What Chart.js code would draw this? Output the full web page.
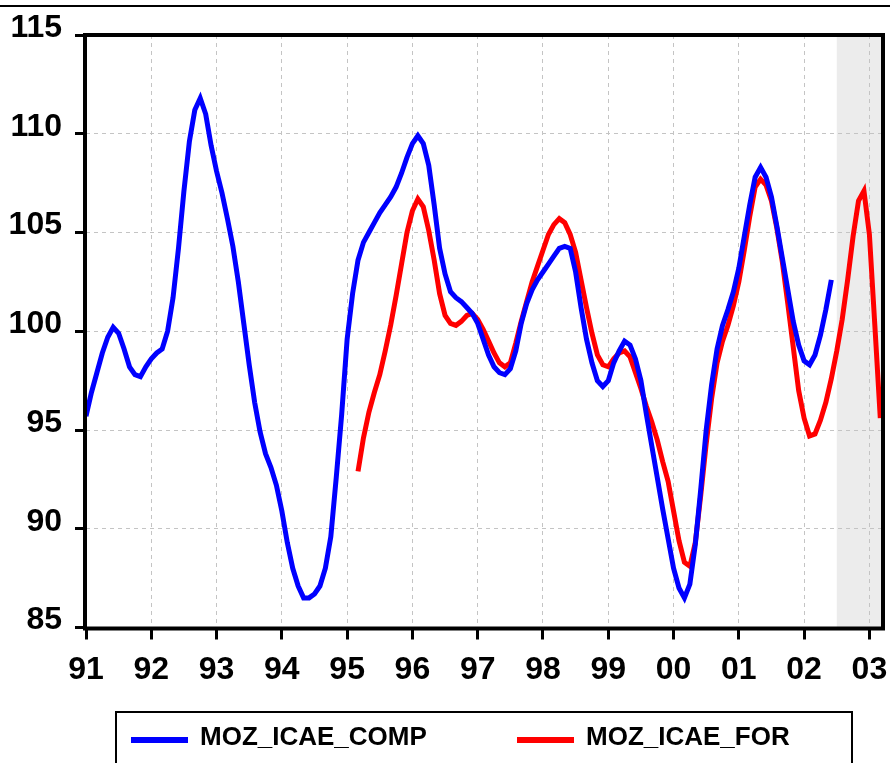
<!DOCTYPE html>
<html>
<head>
<meta charset="utf-8">
<title>MOZ_ICAE</title>
<script src="https://cdn.jsdelivr.net/npm/chart.js@4.4.1/dist/chart.umd.min.js"></script>
<style>
  html, body { margin: 0; padding: 0; background: #fff; }
</style>
</head>
<body>
<canvas id="chart" width="890" height="763"></canvas>
<script>
// monthly index, 1991M01 = 0
const yearTicks = ['91', '92', '93', '94', '95', '96', '97', '98', '99', '00', '01', '02', '03'];
const lastObs = 146;        // 2003M03
const shadeFrom = 138;      // 2002M07, forecast sample

const compLabel = 'MOZ_ICAE_COMP';
const compStart = 0;        // 1991M01
const compValues = [
  95.7, 96.9, 97.9, 98.9, 99.7, 100.2, 99.9, 99.1, 98.2, 97.8, 97.7, 98.2,
  98.6, 98.9, 99.1, 100.0, 101.7, 104.2, 107.1, 109.6, 111.2, 111.8, 111.0, 109.4,
  108.1, 107.0, 105.7, 104.3, 102.5, 100.4, 98.3, 96.4, 94.9, 93.8, 93.1, 92.2,
  90.9, 89.3, 88.0, 87.1, 86.5, 86.5, 86.7, 87.1, 88.0, 89.6, 92.6, 95.8,
  99.6, 101.9, 103.6, 104.5, 105.0, 105.5, 106.0, 106.4, 106.8, 107.3, 108.0, 108.8,
  109.5, 109.9, 109.5, 108.4, 106.4, 104.2, 102.9, 102.0, 101.7, 101.5, 101.2, 100.9,
  100.4, 99.6, 98.8, 98.2, 97.9, 97.8, 98.1, 99.0, 100.4, 101.4, 102.1, 102.6,
  103.0, 103.4, 103.8, 104.2, 104.3, 104.2, 103.0, 101.2, 99.6, 98.4, 97.5, 97.2,
  97.5, 98.4, 99.0, 99.5, 99.3, 98.6, 97.5, 95.8, 94.2, 92.6, 91.0, 89.5,
  88.0, 87.0, 86.5, 87.2, 89.2, 92.0, 95.0, 97.3, 99.1, 100.3, 101.1, 102.0,
  103.2, 104.8, 106.4, 107.8, 108.3, 107.8, 106.8, 105.3, 103.7, 102.1, 100.5, 99.3,
  98.5, 98.3, 98.8, 99.8, 101.1, 102.6
];

const forLabel = 'MOZ_ICAE_FOR';
const forStart = 50;        // 1995M03
const forValues = [
  92.9, 94.6, 95.9, 96.9, 97.8, 99.0, 100.3, 101.8, 103.4, 105.0,
  106.1, 106.7, 106.3, 105.1, 103.6, 101.9, 100.8, 100.4, 100.3, 100.5, 100.8, 100.9,
  100.6, 100.1, 99.5, 98.9, 98.4, 98.2, 98.4, 99.4, 100.5, 101.5, 102.5, 103.3,
  104.1, 104.9, 105.4, 105.7, 105.5, 104.9, 104.0, 102.6, 101.2, 99.9, 98.8, 98.3,
  98.2, 98.6, 98.9, 99.0, 98.7, 97.9, 97.1, 96.2, 95.4, 94.5, 93.4, 92.4,
  90.9, 89.4, 88.3, 88.1, 89.3, 91.7, 94.3, 96.6, 98.4, 99.5, 100.3, 101.3,
  102.5, 104.1, 105.8, 107.3, 107.7, 107.4, 106.6, 105.2, 103.5, 101.4, 99.2, 97.0,
  95.6, 94.7, 94.8, 95.5, 96.4, 97.6, 99.0, 100.6, 102.6, 104.8, 106.6, 107.1,
  104.9, 100.3, 95.6
];

const toPoints = (start, values) => values.map((v, i) => ({ x: start + i, y: v }));

const tickFont = { family: "'Liberation Sans', Arial, sans-serif", size: 32, weight: 'bold' };
const legendFont = "bold 26px 'Liberation Sans', Arial, sans-serif";
const gridGrey = '#c4c4c4';

// background, top rule and the grey forecast band (under the grid)
const backdrop = {
  id: 'backdrop',
  beforeDraw(chart) {
    const { ctx, chartArea: a, scales: { x } } = chart;
    ctx.save();
    ctx.fillStyle = '#fff';
    ctx.fillRect(0, 0, chart.width, chart.height);
    ctx.fillStyle = '#000';
    ctx.fillRect(0, 5, chart.width, 2);
    ctx.fillStyle = '#ececec';
    const x0 = x.getPixelForValue(shadeFrom);
    ctx.fillRect(x0, a.top, a.right - x0, a.bottom - a.top);
    ctx.restore();
  }
};

// black frame round the plot
const frame = {
  id: 'frame',
  afterDatasetsDraw(chart) {
    const { ctx, chartArea: a } = chart;
    ctx.save();
    ctx.strokeStyle = '#000';
    ctx.lineWidth = 4;
    ctx.strokeRect(a.left - 1, a.top, a.right - a.left + 1, a.bottom - a.top + 1);
    ctx.restore();
  }
};

// boxed legend under the axis
const boxLegend = {
  id: 'boxLegend',
  afterDraw(chart) {
    const { ctx } = chart;
    const slots = [131, 517];
    const cy = 738;
    ctx.save();
    ctx.strokeStyle = '#000';
    ctx.lineWidth = 2;
    ctx.strokeRect(116, 712, 736, 70);
    ctx.font = legendFont;
    ctx.textBaseline = 'middle';
    ctx.textAlign = 'left';
    chart.data.datasets.forEach((ds, i) => {
      const lx = slots[i];
      ctx.fillStyle = ds.borderColor;
      ctx.fillRect(lx, cy - 1, 57, 6);
      ctx.fillStyle = '#000';
      ctx.fillText(ds.label, lx + 69, cy);
    });
    ctx.restore();
  }
};

new Chart(document.getElementById('chart'), {
  type: 'line',
  data: {
    datasets: [
      { label: compLabel, data: toPoints(compStart, compValues), borderColor: '#0000ff', backgroundColor: '#0000ff' },
      { label: forLabel, data: toPoints(forStart, forValues), borderColor: '#ff0000', backgroundColor: '#ff0000' }
    ]
  },
  options: {
    responsive: false,
    animation: false,
    devicePixelRatio: 1,
    layout: { padding: { top: 35, right: 7, left: 0, bottom: 0 } },
    elements: {
      line: { borderWidth: 5, tension: 0, borderJoinStyle: 'miter' },
      point: { radius: 0, hoverRadius: 0 }
    },
    plugins: { legend: { display: false }, tooltip: { enabled: false } },
    scales: {
      x: {
        type: 'linear',
        min: 0,
        max: lastObs + 0.5,
        afterFit: (s) => {
          s.height = 135.5;
          s.paddingLeft = 0;
          s.paddingRight = 0;
        },
        afterBuildTicks: (s) => {
          s.ticks = yearTicks.map((_, k) => ({ value: k * 12 }));
        },
        ticks: {
          font: tickFont,
          color: '#000',
          padding: 11,
          maxRotation: 0,
          autoSkip: false,
          callback: (v) => yearTicks[v / 12]
        },
        grid: { color: gridGrey, lineWidth: 1, tickColor: '#000', tickLength: 12, tickWidth: 3 },
        border: { display: false, dash: [4, 4] }
      },
      y: {
        min: 85,
        max: 115,
        afterFit: (s) => {
          s.width = 86;
          s.paddingTop = 0;
          s.paddingBottom = 0;
        },
        ticks: {
          stepSize: 5,
          font: tickFont,
          color: '#000',
          padding: 13,
          labelOffset: -7
        },
        grid: { color: gridGrey, lineWidth: 1, tickColor: '#000', tickLength: 11, tickWidth: 3 },
        border: { display: false, dash: [4, 4] }
      }
    }
  },
  plugins: [backdrop, frame, boxLegend]
});
</script>
</body>
</html>
